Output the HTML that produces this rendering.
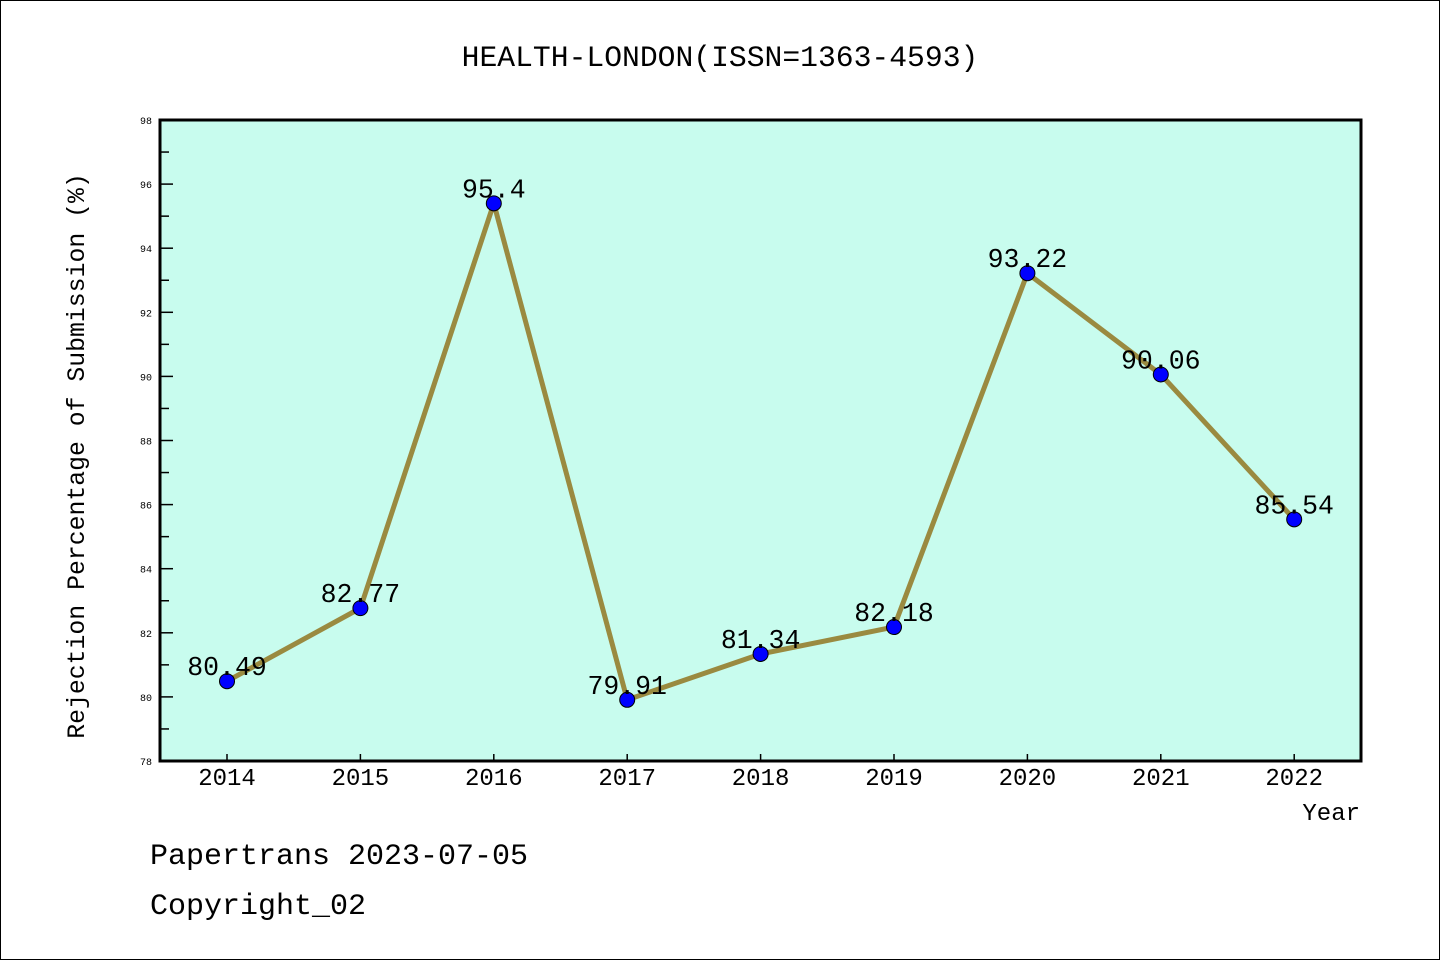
<!DOCTYPE html>
<html><head><meta charset="utf-8"><style>
html,body{margin:0;padding:0;background:#fff;}
svg{display:block;font-family:"Liberation Mono","WenQuanYi Zen Hei",monospace;}
</style></head><body>
<svg id="chart" width="1440" height="960" xmlns="http://www.w3.org/2000/svg">
<rect x="0.5" y="0.5" width="1439" height="959" fill="#fff" stroke="#000" stroke-width="1"/>
<text x="720" y="66" text-anchor="middle" font-size="29.7">HEALTH-LONDON(ISSN=1363-4593)</text>
<rect x="160" y="120" width="1201" height="641" fill="#c8fcee"/>
<g id="axes"></g>
<g id="series"></g>
<rect x="160" y="120" width="1201" height="641" fill="none" stroke="#000" stroke-width="3"/>
<text x="1360" y="820" text-anchor="end" font-size="24">Year</text>
<text transform="translate(84,456) rotate(-90)" text-anchor="middle" font-size="24.8">Rejection Percentage of Submission (%)</text>
<text x="150" y="864" font-size="30">Papertrans 2023-07-05</text>
<text x="150" y="914" font-size="30">Copyright_02</text>
</svg>
<script>
const years=["2014","2015","2016","2017","2018","2019","2020","2021","2022"];
const rates=[80.49,82.77,95.4,79.91,81.34,82.18,93.22,90.06,85.54];
const labels=["80.49","82.77","95.4","79.91","81.34","82.18","93.22","90.06","85.54"];
const yTicks=[78,80,82,84,86,88,90,92,94,96,98];
const NS="http://www.w3.org/2000/svg";
const X0=227,XSTEP=133.4,YTOP=120,YBOT=761,YMIN=78,YMAX=98;
function xs(i){return X0+i*XSTEP;}
function ys(v){return YBOT-(v-YMIN)/(YMAX-YMIN)*(YBOT-YTOP);}
function mk(tag,at,parent){const e=document.createElementNS(NS,tag);for(const k in at)e.setAttribute(k,at[k]);parent.appendChild(e);return e;}
const axes=document.getElementById('axes');
yTicks.forEach((t,i)=>{
  const y=ys(t);
  const l=mk('line',{x1:160,x2:173,y1:y,y2:y,stroke:'#000','stroke-width':1.5},axes);
  
  
  const tx=mk('text',{x:152,y:y+4,'text-anchor':'end','font-size':10},axes);
  
  
  tx.textContent=t;
  if(i<yTicks.length-1){
    const ym=ys(t+1);
    const m=mk('line',{x1:160,x2:169,y1:ym,y2:ym,stroke:'#000','stroke-width':1.5},axes);
    
    
  }
});
years.forEach((yr,i)=>{
  const x=xs(i);
  const l=mk('line',{x1:x,x2:x,y1:761,y2:754,stroke:'#000','stroke-width':1.5},axes);
  
  
  const tx=mk('text',{x:x,y:785,'text-anchor':'middle','font-size':24},axes);
  
  
  tx.textContent=yr;
});
const ser=document.getElementById('series');
const pts=rates.map((v,i)=>xs(i)+','+ys(v)).join(' ');
const pl=mk('polyline',{points:pts,fill:'none',stroke:'#9a8a40','stroke-width':5,'stroke-linejoin':'round'},ser);


rates.forEach((v,i)=>{
  const c=mk('circle',{cx:xs(i),cy:ys(v),r:7.5,fill:'#0000ff',stroke:'#000','stroke-width':1},ser);
  
  
  const t=mk('text',{x:xs(i),y:ys(v)-6,'text-anchor':'middle','font-size':26.5},ser);
  
  
  t.textContent=labels[i];
});
</script>
</body></html>
